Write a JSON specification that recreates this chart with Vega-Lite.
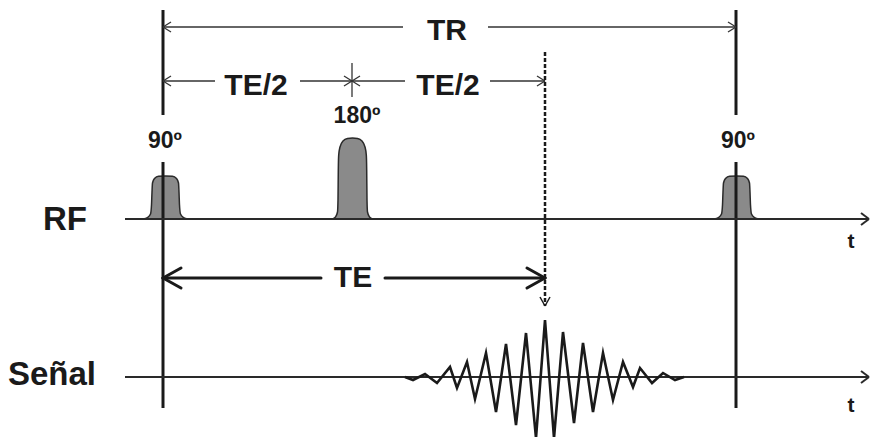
{
  "$schema": "https://vega.github.io/schema/vega-lite/v6.json",
  "autosize": {"type": "fit", "contains": "padding"},
  "width": 870,
  "height": 437,
  "padding": 0,
  "background": "white",
  "config": {"view": {"stroke": null}},
  "datasets": {
    "segments": [
      {"part": "marker", "x": 163, "y": 10, "x2": 163, "y2": 115},
      {"part": "marker", "x": 163, "y": 162, "x2": 163, "y2": 408},
      {"part": "marker", "x": 736, "y": 10, "x2": 736, "y2": 115},
      {"part": "marker", "x": 736, "y": 162, "x2": 736, "y2": 408},
      {"part": "axis", "x": 125, "y": 219, "x2": 869, "y2": 219},
      {"part": "axis", "x": 861, "y": 213, "x2": 869, "y2": 219},
      {"part": "axis", "x": 861, "y": 225, "x2": 869, "y2": 219},
      {"part": "axis", "x": 125, "y": 377, "x2": 869, "y2": 377},
      {"part": "axis", "x": 861, "y": 371, "x2": 869, "y2": 377},
      {"part": "axis", "x": 861, "y": 383, "x2": 869, "y2": 377},
      {"part": "TR", "x": 163, "y": 27, "x2": 403, "y2": 27},
      {"part": "TR", "x": 488, "y": 27, "x2": 736, "y2": 27},
      {"part": "TR", "x": 163, "y": 27, "x2": 171, "y2": 22},
      {"part": "TR", "x": 163, "y": 27, "x2": 171, "y2": 32},
      {"part": "TR", "x": 736, "y": 27, "x2": 728, "y2": 22},
      {"part": "TR", "x": 736, "y": 27, "x2": 728, "y2": 32},
      {"part": "TE/2", "x": 163, "y": 81, "x2": 215, "y2": 81},
      {"part": "TE/2", "x": 300, "y": 81, "x2": 352, "y2": 81},
      {"part": "TE/2", "x": 352, "y": 81, "x2": 405, "y2": 81},
      {"part": "TE/2", "x": 490, "y": 81, "x2": 545, "y2": 81},
      {"part": "TE/2", "x": 163, "y": 81, "x2": 171, "y2": 76},
      {"part": "TE/2", "x": 163, "y": 81, "x2": 171, "y2": 86},
      {"part": "TE/2", "x": 352, "y": 81, "x2": 344, "y2": 76},
      {"part": "TE/2", "x": 352, "y": 81, "x2": 344, "y2": 86},
      {"part": "TE/2", "x": 352, "y": 81, "x2": 360, "y2": 76},
      {"part": "TE/2", "x": 352, "y": 81, "x2": 360, "y2": 86},
      {"part": "TE/2", "x": 545, "y": 81, "x2": 537, "y2": 76},
      {"part": "TE/2", "x": 545, "y": 81, "x2": 537, "y2": 86},
      {"part": "TE/2", "x": 352, "y": 63, "x2": 352, "y2": 97},
      {"part": "TE", "x": 163, "y": 278, "x2": 321, "y2": 278},
      {"part": "TE", "x": 385, "y": 278, "x2": 545, "y2": 278},
      {"part": "TE", "x": 163, "y": 278, "x2": 181, "y2": 268},
      {"part": "TE", "x": 163, "y": 278, "x2": 181, "y2": 288},
      {"part": "TE", "x": 545, "y": 278, "x2": 527, "y2": 268},
      {"part": "TE", "x": 545, "y": 278, "x2": 527, "y2": 288},
      {"part": "echo", "x": 545, "y": 52, "x2": 545, "y2": 306},
      {"part": "echohead", "x": 545, "y": 306, "x2": 540, "y2": 297},
      {"part": "echohead", "x": 545, "y": 306, "x2": 550, "y2": 297}
    ],
    "pulses": [
      {"pulse": "90a", "x": 143, "y": 219},
      {"pulse": "90a", "x": 147.5, "y": 217.5},
      {"pulse": "90a", "x": 150.5, "y": 214},
      {"pulse": "90a", "x": 151.5, "y": 205},
      {"pulse": "90a", "x": 152, "y": 192},
      {"pulse": "90a", "x": 152.5, "y": 183},
      {"pulse": "90a", "x": 154.5, "y": 178.5},
      {"pulse": "90a", "x": 158.5, "y": 176.2},
      {"pulse": "90a", "x": 165.5, "y": 176},
      {"pulse": "90a", "x": 172.5, "y": 176.2},
      {"pulse": "90a", "x": 176.5, "y": 178.5},
      {"pulse": "90a", "x": 178.5, "y": 183},
      {"pulse": "90a", "x": 179, "y": 192},
      {"pulse": "90a", "x": 179.5, "y": 205},
      {"pulse": "90a", "x": 180.5, "y": 214},
      {"pulse": "90a", "x": 183.5, "y": 217.5},
      {"pulse": "90a", "x": 188, "y": 219},
      {"pulse": "180", "x": 332.5, "y": 219},
      {"pulse": "180", "x": 335.5, "y": 217},
      {"pulse": "180", "x": 337.5, "y": 212},
      {"pulse": "180", "x": 338, "y": 200},
      {"pulse": "180", "x": 338.3, "y": 170},
      {"pulse": "180", "x": 338.7, "y": 155},
      {"pulse": "180", "x": 340, "y": 147},
      {"pulse": "180", "x": 343, "y": 141},
      {"pulse": "180", "x": 347.5, "y": 138.5},
      {"pulse": "180", "x": 352.5, "y": 138},
      {"pulse": "180", "x": 357.5, "y": 138.5},
      {"pulse": "180", "x": 362, "y": 141},
      {"pulse": "180", "x": 365, "y": 147},
      {"pulse": "180", "x": 366.3, "y": 155},
      {"pulse": "180", "x": 366.7, "y": 170},
      {"pulse": "180", "x": 367, "y": 200},
      {"pulse": "180", "x": 367.5, "y": 212},
      {"pulse": "180", "x": 369.5, "y": 217},
      {"pulse": "180", "x": 372.5, "y": 219},
      {"pulse": "90b", "x": 714, "y": 219},
      {"pulse": "90b", "x": 718.5, "y": 217.5},
      {"pulse": "90b", "x": 721.5, "y": 214},
      {"pulse": "90b", "x": 722.5, "y": 205},
      {"pulse": "90b", "x": 723, "y": 192},
      {"pulse": "90b", "x": 723.5, "y": 183},
      {"pulse": "90b", "x": 725.5, "y": 178.5},
      {"pulse": "90b", "x": 729.5, "y": 176.2},
      {"pulse": "90b", "x": 736.5, "y": 176},
      {"pulse": "90b", "x": 743.5, "y": 176.2},
      {"pulse": "90b", "x": 747.5, "y": 178.5},
      {"pulse": "90b", "x": 749.5, "y": 183},
      {"pulse": "90b", "x": 750, "y": 192},
      {"pulse": "90b", "x": 750.5, "y": 205},
      {"pulse": "90b", "x": 751.5, "y": 214},
      {"pulse": "90b", "x": 754.5, "y": 217.5},
      {"pulse": "90b", "x": 759, "y": 219}
    ],
    "wave": [
      {"x": 405, "y": 377}, {"x": 413, "y": 380}, {"x": 425, "y": 374},
      {"x": 437, "y": 383}, {"x": 450, "y": 367}, {"x": 457, "y": 388},
      {"x": 467, "y": 362}, {"x": 475, "y": 399}, {"x": 486, "y": 353},
      {"x": 496, "y": 412}, {"x": 506, "y": 344}, {"x": 516, "y": 425},
      {"x": 526, "y": 333}, {"x": 536, "y": 438}, {"x": 545, "y": 320},
      {"x": 554, "y": 438}, {"x": 563, "y": 332}, {"x": 574, "y": 423},
      {"x": 583, "y": 343}, {"x": 593, "y": 412}, {"x": 603, "y": 353},
      {"x": 613, "y": 400}, {"x": 623, "y": 362}, {"x": 633, "y": 387},
      {"x": 640, "y": 368}, {"x": 652, "y": 383}, {"x": 663, "y": 373},
      {"x": 675, "y": 380}, {"x": 684, "y": 377}
    ],
    "labels": [
      {"role": "interval", "text": "TR", "x": 447, "y": 40},
      {"role": "interval", "text": "TE/2", "x": 256, "y": 95},
      {"role": "interval", "text": "TE/2", "x": 448, "y": 95},
      {"role": "interval", "text": "TE", "x": 353, "y": 287},
      {"role": "angle", "text": "90º", "x": 165, "y": 148},
      {"role": "angle", "text": "180º", "x": 357, "y": 123},
      {"role": "angle", "text": "90º", "x": 738, "y": 148},
      {"role": "channel", "text": "RF", "x": 43, "y": 230},
      {"role": "channel", "text": "Señal", "x": 8, "y": 385},
      {"role": "time", "text": "t", "x": 851, "y": 248},
      {"role": "time", "text": "t", "x": 851, "y": 412}
    ]
  },
  "layer": [
    {
      "data": {"name": "pulses"},
      "mark": {"type": "area", "interpolate": "monotone", "fill": "#8a8a8a", "fillOpacity": 1, "stroke": "#2a2a2a", "strokeWidth": 1.5},
      "encoding": {
        "x": {"field": "x", "type": "quantitative", "scale": {"domain": [0, 870], "nice": false, "zero": false}, "axis": null},
        "y": {"field": "y", "type": "quantitative", "scale": {"domain": [0, 437], "nice": false, "zero": false, "reverse": true}, "axis": null},
        "y2": {"datum": 219},
        "detail": {"field": "pulse", "type": "nominal"}
      }
    },
    {
      "data": {"name": "segments"},
      "transform": [{"filter": "datum.part === 'marker'"}],
      "mark": {"type": "rule", "color": "#1a1a1a", "strokeWidth": 3},
      "encoding": {
        "x": {"field": "x", "type": "quantitative", "scale": {"domain": [0, 870], "nice": false, "zero": false}, "axis": null},
        "y": {"field": "y", "type": "quantitative", "scale": {"domain": [0, 437], "nice": false, "zero": false, "reverse": true}, "axis": null},
        "x2": {"field": "x2"},
        "y2": {"field": "y2"}
      }
    },
    {
      "data": {"name": "segments"},
      "transform": [{"filter": "datum.part === 'axis'"}],
      "mark": {"type": "rule", "color": "#2a2a2a", "strokeWidth": 2},
      "encoding": {
        "x": {"field": "x", "type": "quantitative", "scale": {"domain": [0, 870], "nice": false, "zero": false}, "axis": null},
        "y": {"field": "y", "type": "quantitative", "scale": {"domain": [0, 437], "nice": false, "zero": false, "reverse": true}, "axis": null},
        "x2": {"field": "x2"},
        "y2": {"field": "y2"}
      }
    },
    {
      "data": {"name": "segments"},
      "transform": [{"filter": "datum.part === 'TR' || datum.part === 'TE/2'"}],
      "mark": {"type": "rule", "color": "#333333", "strokeWidth": 1.3},
      "encoding": {
        "x": {"field": "x", "type": "quantitative", "scale": {"domain": [0, 870], "nice": false, "zero": false}, "axis": null},
        "y": {"field": "y", "type": "quantitative", "scale": {"domain": [0, 437], "nice": false, "zero": false, "reverse": true}, "axis": null},
        "x2": {"field": "x2"},
        "y2": {"field": "y2"}
      }
    },
    {
      "data": {"name": "segments"},
      "transform": [{"filter": "datum.part === 'TE'"}],
      "mark": {"type": "rule", "color": "#1a1a1a", "strokeWidth": 3, "strokeCap": "round"},
      "encoding": {
        "x": {"field": "x", "type": "quantitative", "scale": {"domain": [0, 870], "nice": false, "zero": false}, "axis": null},
        "y": {"field": "y", "type": "quantitative", "scale": {"domain": [0, 437], "nice": false, "zero": false, "reverse": true}, "axis": null},
        "x2": {"field": "x2"},
        "y2": {"field": "y2"}
      }
    },
    {
      "data": {"name": "segments"},
      "transform": [{"filter": "datum.part === 'echo'"}],
      "mark": {"type": "rule", "color": "#1a1a1a", "strokeWidth": 2.5, "strokeDash": [4, 2]},
      "encoding": {
        "x": {"field": "x", "type": "quantitative", "scale": {"domain": [0, 870], "nice": false, "zero": false}, "axis": null},
        "y": {"field": "y", "type": "quantitative", "scale": {"domain": [0, 437], "nice": false, "zero": false, "reverse": true}, "axis": null},
        "x2": {"field": "x2"},
        "y2": {"field": "y2"}
      }
    },
    {
      "data": {"name": "segments"},
      "transform": [{"filter": "datum.part === 'echohead'"}],
      "mark": {"type": "rule", "color": "#1a1a1a", "strokeWidth": 1.5},
      "encoding": {
        "x": {"field": "x", "type": "quantitative", "scale": {"domain": [0, 870], "nice": false, "zero": false}, "axis": null},
        "y": {"field": "y", "type": "quantitative", "scale": {"domain": [0, 437], "nice": false, "zero": false, "reverse": true}, "axis": null},
        "x2": {"field": "x2"},
        "y2": {"field": "y2"}
      }
    },
    {
      "data": {"name": "wave"},
      "mark": {"type": "line", "color": "#1a1a1a", "strokeWidth": 2.6, "strokeJoin": "miter", "strokeMiterLimit": 6, "clip": true},
      "encoding": {
        "x": {"field": "x", "type": "quantitative", "scale": {"domain": [0, 870], "nice": false, "zero": false}, "axis": null},
        "y": {"field": "y", "type": "quantitative", "scale": {"domain": [0, 437], "nice": false, "zero": false, "reverse": true}, "axis": null}
      }
    },
    {
      "data": {"name": "labels"},
      "transform": [{"filter": "datum.role === 'interval'"}],
      "mark": {"type": "text", "font": "Liberation Sans", "fontWeight": "bold", "fontSize": 30, "align": "center", "baseline": "alphabetic", "color": "#1a1a1a"},
      "encoding": {
        "x": {"field": "x", "type": "quantitative", "scale": {"domain": [0, 870], "nice": false, "zero": false}, "axis": null},
        "y": {"field": "y", "type": "quantitative", "scale": {"domain": [0, 437], "nice": false, "zero": false, "reverse": true}, "axis": null},
        "text": {"field": "text"}
      }
    },
    {
      "data": {"name": "labels"},
      "transform": [{"filter": "datum.role === 'angle'"}],
      "mark": {"type": "text", "font": "Liberation Sans", "fontWeight": "bold", "fontSize": 23, "align": "center", "baseline": "alphabetic", "color": "#1a1a1a"},
      "encoding": {
        "x": {"field": "x", "type": "quantitative", "scale": {"domain": [0, 870], "nice": false, "zero": false}, "axis": null},
        "y": {"field": "y", "type": "quantitative", "scale": {"domain": [0, 437], "nice": false, "zero": false, "reverse": true}, "axis": null},
        "text": {"field": "text"}
      }
    },
    {
      "data": {"name": "labels"},
      "transform": [{"filter": "datum.role === 'channel'"}],
      "mark": {"type": "text", "font": "Liberation Sans", "fontWeight": "bold", "fontSize": 33, "align": "left", "baseline": "alphabetic", "color": "#1a1a1a"},
      "encoding": {
        "x": {"field": "x", "type": "quantitative", "scale": {"domain": [0, 870], "nice": false, "zero": false}, "axis": null},
        "y": {"field": "y", "type": "quantitative", "scale": {"domain": [0, 437], "nice": false, "zero": false, "reverse": true}, "axis": null},
        "text": {"field": "text"}
      }
    },
    {
      "data": {"name": "labels"},
      "transform": [{"filter": "datum.role === 'time'"}],
      "mark": {"type": "text", "font": "Liberation Sans", "fontWeight": "bold", "fontSize": 21, "align": "center", "baseline": "alphabetic", "color": "#1a1a1a"},
      "encoding": {
        "x": {"field": "x", "type": "quantitative", "scale": {"domain": [0, 870], "nice": false, "zero": false}, "axis": null},
        "y": {"field": "y", "type": "quantitative", "scale": {"domain": [0, 437], "nice": false, "zero": false, "reverse": true}, "axis": null},
        "text": {"field": "text"}
      }
    }
  ]
}
